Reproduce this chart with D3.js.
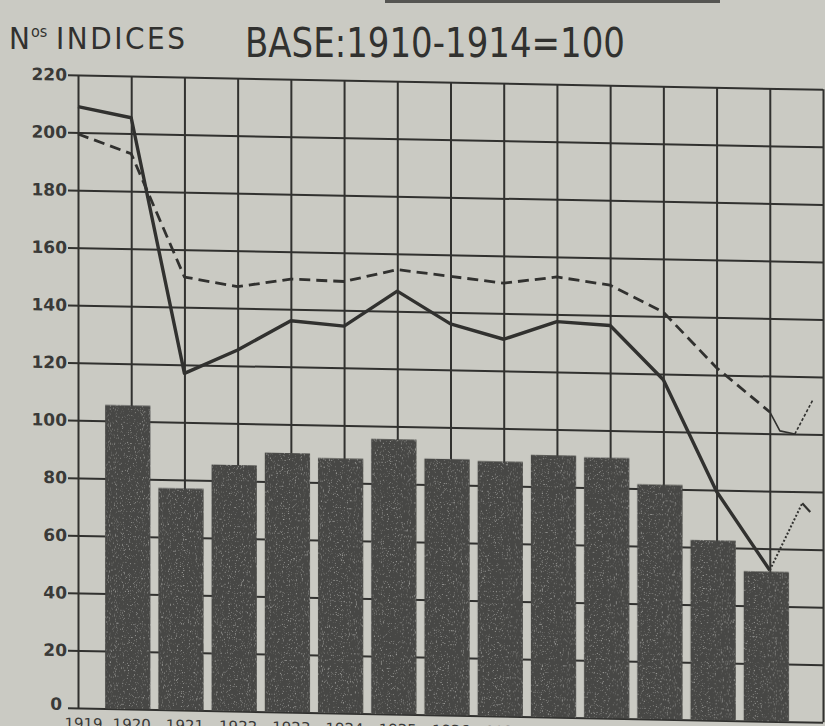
<!DOCTYPE html>
<html>
<head>
<meta charset="utf-8">
<script src="https://cdn.jsdelivr.net/npm/d3@7"></script>
<style>
    body { margin: 0; background: #cacac3; }
    svg { display: block; }
</style>
</head>
<body>
<svg id="chart" width="825" height="726"></svg>
<script>
//years of the horizontal axis
const YEARS = [1919, 1920, 1921, 1922, 1923, 1924, 1925, 1926, 1927, 1928, 1929, 1930, 1931, 1932];
//vertical grid lines (one more column on the right)
const GRID_YEARS = [1919, 1920, 1921, 1922, 1923, 1924, 1925, 1926, 1927, 1928, 1929, 1930, 1931, 1932, 1933];
const Y_TICKS = [0, 20, 40, 60, 80, 100, 120, 140, 160, 180, 200, 220];

//bars
const BAR_YEARS = [1920, 1921, 1922, 1923, 1924, 1925, 1926, 1927, 1928, 1929, 1930, 1931, 1932];
const BAR_VALUES = [105.5, 77, 85.5, 90, 88.5, 95.5, 89, 88.5, 91, 90.5, 81.5, 62.5, 52];

//full line
const SOLID_VALUES = [209, 205.5, 117, 125.5, 136, 134.5, 147, 136, 131, 137.5, 136.5, 118, 79.5, 52.5];
//dashed line
const DASHED_VALUES = [199.5, 193, 150.5, 147.5, 150.5, 150, 154.5, 152.5, 150.5, 153, 150.5, 141.5, 122.5, 107.5];

//1933 continuations
const DASHED_TAIL_YEARS = [1932, 1932.19, 1932.47];
const DASHED_TAIL_VALUES = [107.5, 101, 100];
const DASHED_RISE_YEARS = [1932.47, 1932.81];
const DASHED_RISE_VALUES = [100, 112];
const SOLID_DOT_YEARS = [1932, 1932.61];
const SOLID_DOT_VALUES = [52.5, 76];
const SOLID_TICK_YEARS = [1932.61, 1932.76];
const SOLID_TICK_VALUES = [76, 73];

const INK = "#31312f";

var svg = d3.select("#chart");

//grain for the printed bars
var defs = svg.append("defs");
var grain = defs.append("filter").attr("id", "grain")
        .attr("x", 0).attr("y", 0).attr("width", "100%").attr("height", "100%");
grain.append("feTurbulence")
        .attr("type", "fractalNoise")
        .attr("baseFrequency", 0.85)
        .attr("numOctaves", 2)
        .attr("seed", 4)
        .attr("result", "noise");
grain.append("feColorMatrix")
        .attr("in", "noise")
        .attr("type", "matrix")
        .attr("values", "0 0 0 0 0.78  0 0 0 0 0.78  0 0 0 0 0.75  0 0 0 -1.6 0.62")
        .attr("result", "specks");
grain.append("feComposite")
        .attr("in", "specks").attr("in2", "SourceGraphic")
        .attr("operator", "in").attr("result", "masked");
var merge = grain.append("feMerge");
merge.append("feMergeNode").attr("in", "SourceGraphic");
merge.append("feMergeNode").attr("in", "masked");

//cut-off rule of the page above
svg.append("rect")
        .attr("x", 385).attr("y", 0)
        .attr("width", 335).attr("height", 3)
        .attr("fill", "#555552");

//titles
var title1 = svg.append("text")
        .attr("y", 49)
        .attr("fill", INK)
        .style("font-family", "'Liberation Sans Narrow', 'DejaVu Sans Condensed', sans-serif");
title1.append("tspan").attr("x", 9).style("font-size", "31px").text("N");
title1.append("tspan").attr("x", 31).attr("y", 37).style("font-size", "16px").text("os");
title1.append("tspan").attr("x", 56).attr("y", 49).style("font-size", "31px")
        .attr("textLength", 129).attr("lengthAdjust", "spacing").text("INDICES");

svg.append("text")
        .attr("x", 245).attr("y", 57)
        .attr("fill", INK)
        .style("font-family", "'Liberation Sans Narrow', 'DejaVu Sans Condensed', sans-serif")
        .style("font-size", "41px")
        .attr("textLength", 380).attr("lengthAdjust", "spacingAndGlyphs")
        .text("BASE:1910-1914=100");

var x = d3.scaleLinear()
        .domain([1919, 1933])
        .range([78, 823]);
var y = d3.scaleLinear()
        .domain([0, 220])
        .range([708, 75]);

//the printed sheet is slightly sheared
var plot = svg.append("g")
        .attr("transform", "translate(78,708) skewY(1.1) translate(-78,-708)");

//vertical grid
var vGrid = plot.append("g")
        .attr("transform", "translate(0," + y(0) + ")")
        .call(d3.axisBottom(x).tickValues(GRID_YEARS).tickSize(-(y(0) - y(220))).tickFormat(""));
vGrid.select(".domain").remove();
vGrid.selectAll("line").attr("stroke", INK).attr("stroke-width", 2);

//horizontal grid + labels
var yAxis = plot.append("g")
        .attr("transform", "translate(" + x(1919) + ",0)")
        .call(d3.axisLeft(y).tickValues(Y_TICKS)
                .tickSizeInner(-(x(1933) - x(1919)))
                .tickSizeOuter(0)
                .tickPadding(11)
                .tickFormat(d3.format("d")));
yAxis.select(".domain").remove();
yAxis.selectAll("line")
        .attr("x1", -10)
        .attr("stroke", INK)
        .attr("stroke-width", 2);
yAxis.selectAll("text")
        .attr("fill", "#3a3a38")
        .style("font-family", "'DejaVu Sans', sans-serif")
        .style("font-weight", "bold")
        .style("font-size", "17px");
//the zero sits a little lower and to the left
yAxis.selectAll(".tick")
        .filter((d) => d === 0)
        .select("text")
        .attr("x", -16)
        .attr("dy", "0.1em");

//year labels (cut by the bottom of the page)
var xAxis = plot.append("g")
        .attr("transform", "translate(0," + y(0) + ")")
        .call(d3.axisBottom(x).tickValues(YEARS).tickSize(0).tickPadding(10).tickFormat(d3.format("d")));
xAxis.select(".domain").remove();
xAxis.selectAll("text")
        .attr("fill", "#3a3a38")
        .style("font-family", "'DejaVu Sans', sans-serif")
        .style("font-size", "15px");
xAxis.selectAll(".tick")
        .filter((d) => d === 1919)
        .select("text")
        .attr("x", 5);

//bars
var step = x(1920) - x(1919);
plot.append("g")
        .selectAll("rect")
        .data(BAR_VALUES)
        .enter()
        .append("rect")
        .attr("x", (d, i) => x(BAR_YEARS[i]) - step * 0.49)
        .attr("width", step * 0.85)
        .attr("y", (d) => y(d))
        .attr("height", (d) => y(0) - y(d))
        .attr("fill", "#464644")
        .attr("filter", "url(#grain)");

function drawLine(xs, vals, width, dash) {
    var line = d3.line()
            .x((d, i) => x(xs[i]))
            .y((d) => y(d));
    return plot.append("path")
            .datum(vals)
            .attr("d", line)
            .attr("fill", "none")
            .attr("stroke", INK)
            .attr("stroke-width", width)
            .attr("stroke-linejoin", "round")
            .attr("stroke-dasharray", dash);
}

drawLine(YEARS, DASHED_VALUES, 2.8, "11,6");
drawLine(YEARS, SOLID_VALUES, 3.4, null);
drawLine(DASHED_TAIL_YEARS, DASHED_TAIL_VALUES, 1.6, null);
drawLine(DASHED_RISE_YEARS, DASHED_RISE_VALUES, 1.6, "3,2");
drawLine(SOLID_DOT_YEARS, SOLID_DOT_VALUES, 2, "2,2");
drawLine(SOLID_TICK_YEARS, SOLID_TICK_VALUES, 2.2, null);
</script>
</body>
</html>
